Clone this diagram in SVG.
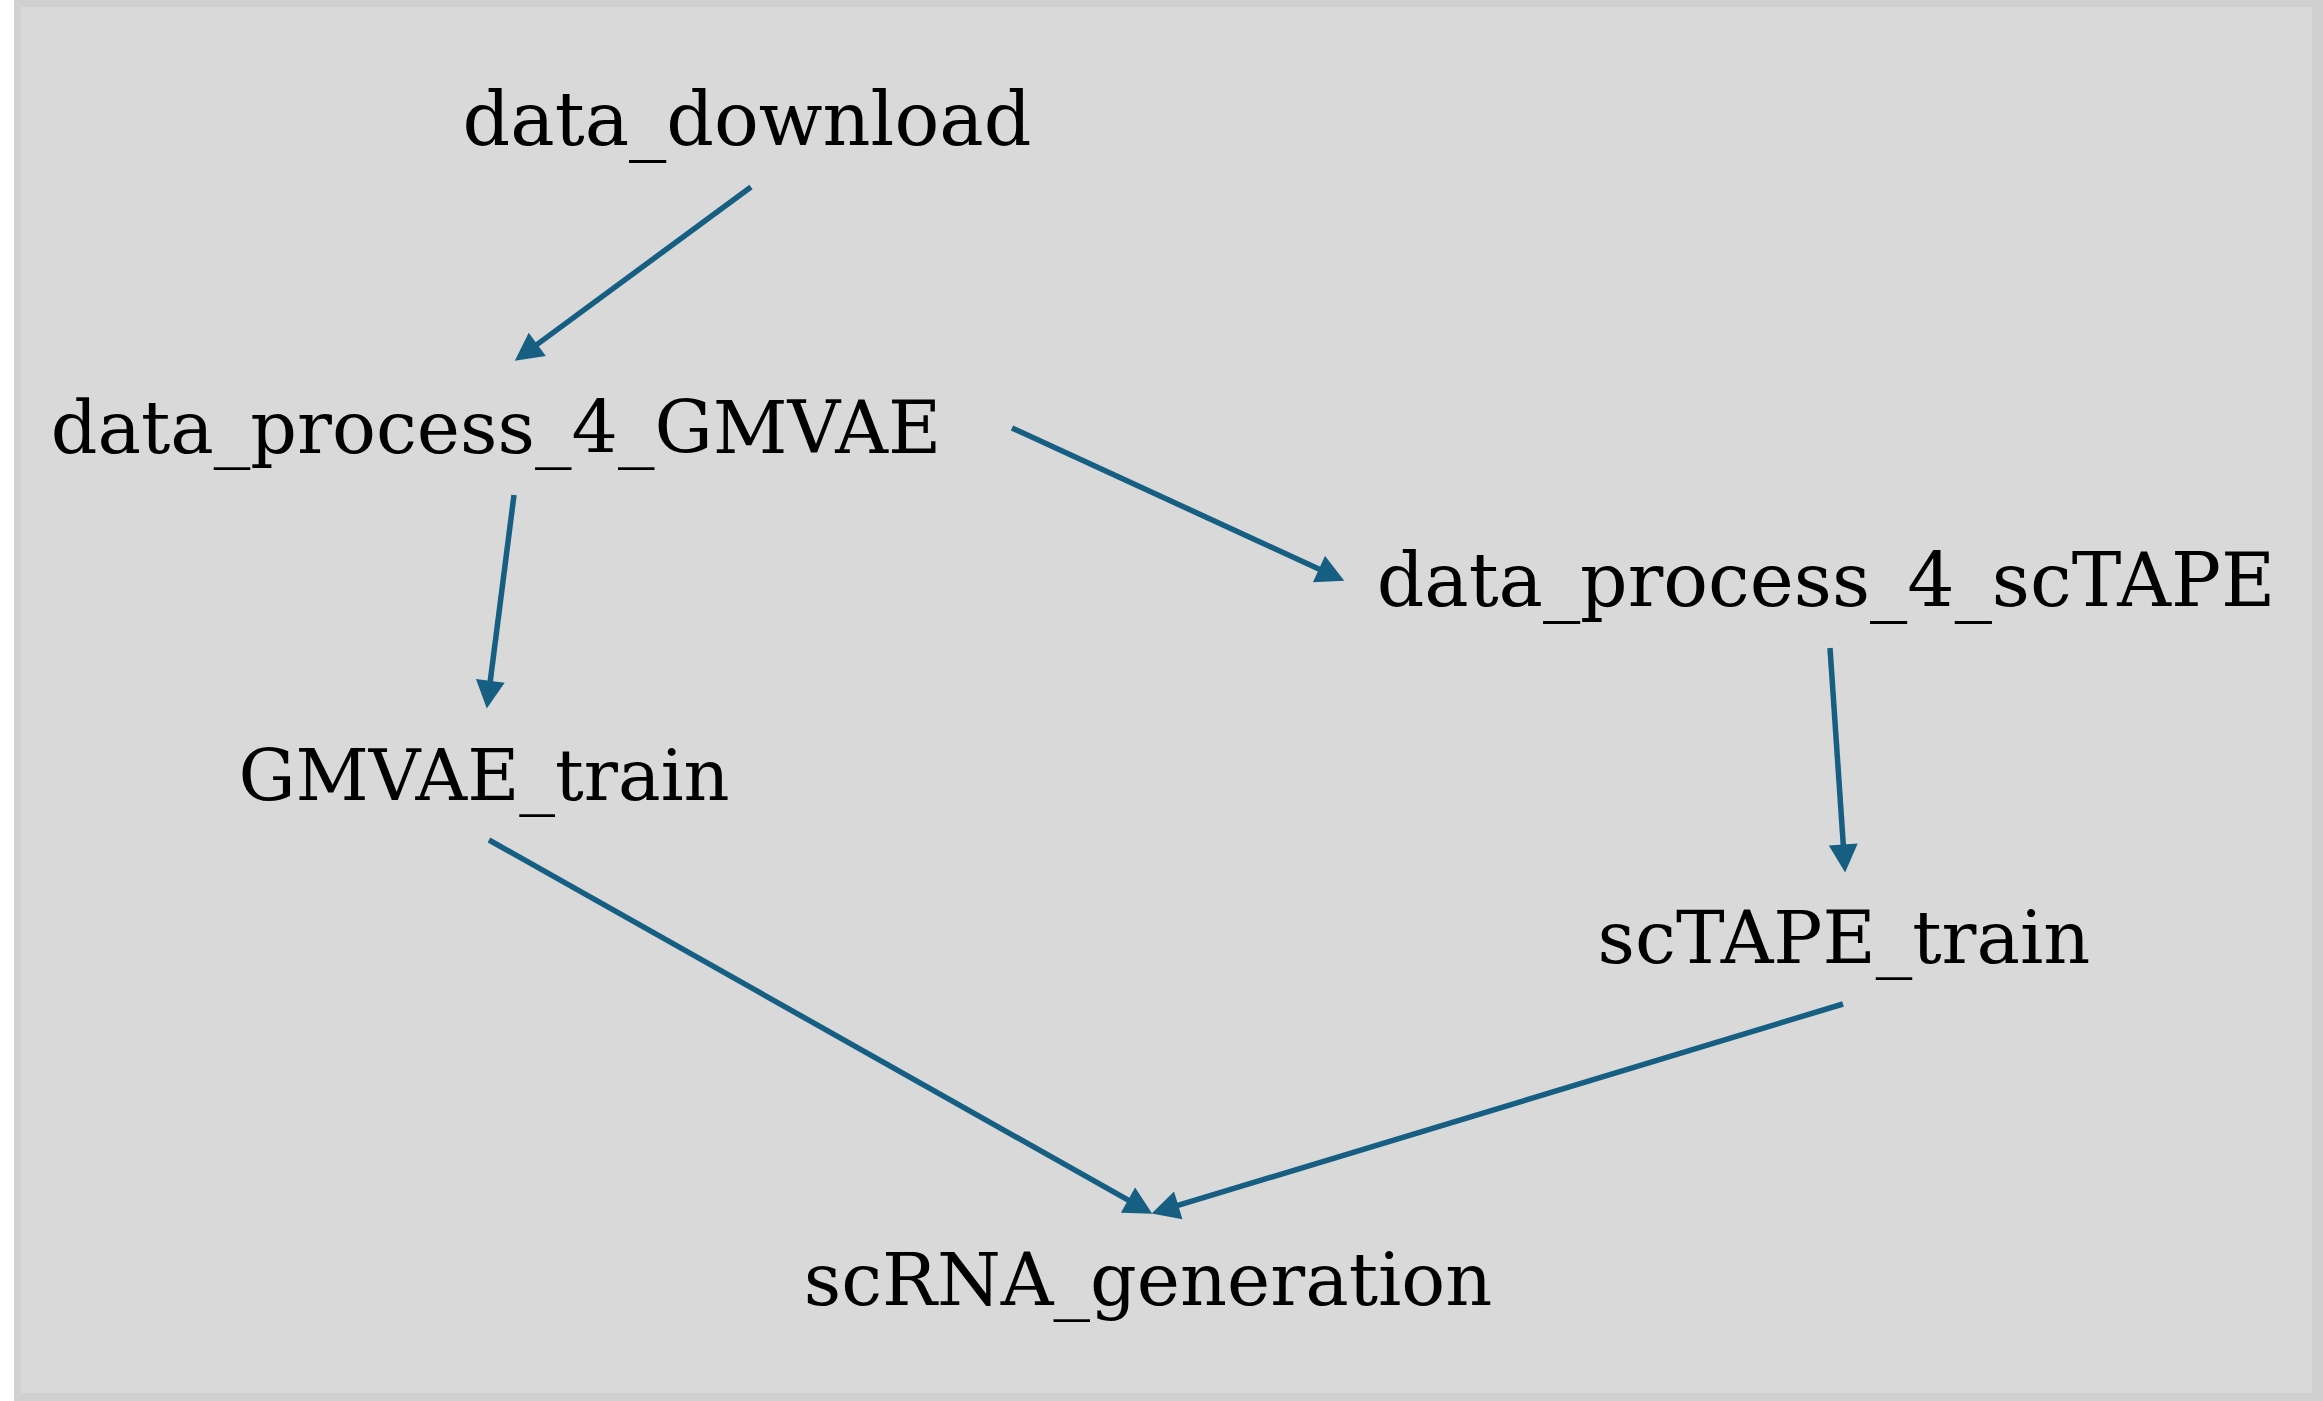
<svg xmlns="http://www.w3.org/2000/svg" width="2323" height="1401" viewBox="0 0 2323 1401">
<style>
.lbl{font-family:"DejaVu Serif",serif;font-size:73px;fill:#000;text-anchor:middle}
.edge{stroke:#165f82;stroke-width:5.5;fill:none;marker-end:url(#ah)}
</style>
<defs>
<marker id="ah" markerUnits="userSpaceOnUse" markerWidth="30" markerHeight="30" viewBox="0 -14 27 28" refX="6" refY="0" orient="auto">
<path d="M0,-13.5 L26,0 L0,13.5 z" fill="#165f82"/>
</marker>
</defs>
<rect x="0" y="0" width="2323" height="1401" fill="#ffffff"/>
<rect x="14" y="0" width="2309" height="1401" fill="#d0d0d0"/>
<rect x="21" y="7" width="2291" height="1386" fill="#d9d9d9"/>
<g id="connectors">
<line class="edge" x1="751" y1="187" x2="532.1" y2="348.1"/>
<line class="edge" x1="1012" y1="428" x2="1324.8" y2="571.7"/>
<line class="edge" x1="514" y1="495" x2="489.5" y2="687.2"/>
<line class="edge" x1="1830" y1="648" x2="1843.7" y2="851"/>
<line class="edge" x1="489" y1="840" x2="1133.6" y2="1203.2"/>
<line class="edge" x1="1843" y1="1004" x2="1172.1" y2="1207.2"/>
</g>
<g id="data_download"><text class="lbl" x="747" y="145" style="font-size:74.5px">data_download</text></g>
<g id="data_process_4_GMVAE"><text class="lbl" x="496" y="453">data_process_4_GMVAE</text></g>
<g id="data_process_4_scTAPE"><text class="lbl" x="1826" y="606" style="font-size:74.4px">data_process_4_scTAPE</text></g>
<g id="GMVAE_train"><text class="lbl" x="484" y="800" style="font-size:71.5px">GMVAE_train</text></g>
<g id="scTAPE_train"><text class="lbl" x="1844" y="963">scTAPE_train</text></g>
<g id="scRNA_generation"><text class="lbl" x="1148" y="1305">scRNA_generation</text></g>
</svg>
